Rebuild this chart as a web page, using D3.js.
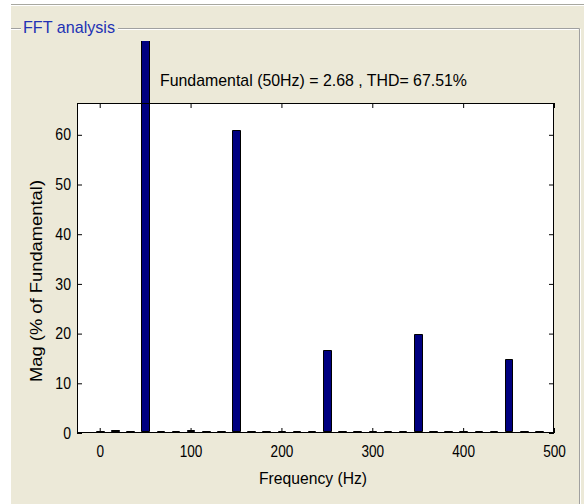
<!DOCTYPE html>
<html>
<head>
<meta charset="utf-8">
<script src="https://cdn.jsdelivr.net/npm/d3@7"></script>
<style>
  html, body { margin: 0; padding: 0; background: #fff; }
  svg { display: block; }
</style>
</head>
<body>
<div id="chart"></div>
<script>
// harmonic frequencies (Hz) and magnitudes (% of fundamental)
const freqs = [0, 16.67, 33.33, 50, 66.67, 83.33, 100, 116.67, 133.33, 150,
  166.67, 183.33, 200, 216.67, 233.33, 250, 266.67, 283.33, 300, 316.67,
  333.33, 350, 366.67, 383.33, 400, 416.67, 433.33, 450, 466.67, 483.33];
const mags = [0, 0.4, 0, 100, 0, 0, 0.4, 0, 0, 60.7,
  0, 0, 0, 0, 0, 16.5, 0, 0, 0, 0,
  0, 19.7, 0, 0, 0, 0, 0, 14.6, 0, 0];
const xTicks = [0, 100, 200, 300, 400, 500];
const yTicks = [0, 10, 20, 30, 40, 50, 60];
const panelTitle = "FFT analysis";
const plotTitle = "Fundamental (50Hz) = 2.68 , THD= 67.51%";
const xLabel = "Frequency (Hz)";
const yLabel = "Mag (% of Fundamental)";

const width = 584, height = 504;
const plot = { left: 77, right: 554, top: 103, bottom: 433 };
const font = "'Liberation Sans', Arial, sans-serif";

const svg = d3.select("#chart").append("svg")
  .attr("width", width)
  .attr("height", height);

// panel background (Windows XP style group box)
svg.append("rect").attr("x", 11).attr("y", 5).attr("width", width - 11).attr("height", height - 5)
  .attr("fill", "#ece9d8");
svg.append("line").attr("x1", 11).attr("x2", width).attr("y1", 4.5).attr("y2", 4.5)
  .attr("stroke", "#a8a8a0");
svg.append("line").attr("x1", 11).attr("x2", width).attr("y1", 5.5).attr("y2", 5.5)
  .attr("stroke", "#fff");

// etched frame lines
const frame = svg.append("g").attr("fill", "none");
frame.append("path").attr("d", "M11,28.5H21 M118,28.5H579.5V504").attr("stroke", "#a0a0a0");
frame.append("path").attr("d", "M11,29.5H21 M118,29.5H578.5 M580.5,29V504").attr("stroke", "#ffffff");

svg.append("text")
  .attr("x", 23).attr("y", 33)
  .attr("font-family", font).attr("font-size", 17)
  .attr("fill", "#2232b4")
  .attr("textLength", 92).attr("lengthAdjust", "spacingAndGlyphs")
  .text(panelTitle);

// scales
const x = d3.scaleLinear().domain([-25, 500]).range([plot.left, plot.right]);
const y = d3.scaleLinear().domain([0, 66.4]).range([plot.bottom, plot.top]);

// plot background
svg.append("rect")
  .attr("x", plot.left).attr("y", plot.top)
  .attr("width", plot.right - plot.left).attr("height", plot.bottom - plot.top)
  .attr("fill", "#fff");

// bars clipped to the panel area
svg.append("clipPath").attr("id", "bar-clip")
  .append("rect").attr("x", plot.left).attr("y", 41)
  .attr("width", plot.right - plot.left).attr("height", plot.bottom - 41);

const barW = 50 / 6; // bar width in Hz
svg.append("g").attr("clip-path", "url(#bar-clip)")
  .selectAll("path")
  .data(freqs.map((f, i) => ({ f, m: mags[i] })))
  .enter()
  .append("path")
  .attr("d", d => {
    const x0 = Math.round(x(d.f - barW / 2)) + 0.5;
    const x1 = Math.round(x(d.f + barW / 2)) + 0.5;
    const y0 = plot.bottom - 1.5;
    const y1 = Math.min(y0, Math.round(y(d.m)) - 0.5);
    return `M${x0},${y0}V${y1}H${x1}V${y0}Z`;
  })
  .attr("fill", "#000080")
  .attr("stroke", "#000")
  .attr("stroke-width", 1);

// axes with inward ticks on all four sides
const tickFont = g => g.selectAll("text")
  .attr("font-family", font).attr("font-size", 16).attr("fill", "#000");

svg.append("g")
  .attr("transform", `translate(0,${plot.bottom})`)
  .call(d3.axisBottom(x).tickValues(xTicks).tickSizeInner(-5).tickSizeOuter(0).tickPadding(13))
  .call(g => g.select(".domain").remove())
  .call(tickFont)
  .call(g => g.selectAll("text").attr("transform", "scale(0.85,1)"));

svg.append("g")
  .attr("transform", `translate(0,${plot.top})`)
  .call(d3.axisTop(x).tickValues(xTicks).tickSizeInner(-5).tickSizeOuter(0).tickFormat(""))
  .call(g => g.select(".domain").remove());

svg.append("g")
  .attr("transform", `translate(${plot.left},0)`)
  .call(d3.axisLeft(y).tickValues(yTicks).tickSizeInner(-5).tickSizeOuter(0))
  .call(g => g.select(".domain").remove())
  .call(tickFont)
  .call(g => g.selectAll("text").attr("x", -6 / 0.88).attr("transform", "scale(0.88,1)"));

svg.append("g")
  .attr("transform", `translate(${plot.right},0)`)
  .call(d3.axisRight(y).tickValues(yTicks).tickSizeInner(-5).tickSizeOuter(0).tickFormat(""))
  .call(g => g.select(".domain").remove());

svg.selectAll(".tick line").attr("stroke", "#000");

// axes box
svg.append("rect")
  .attr("x", plot.left + 0.5).attr("y", plot.top + 0.5)
  .attr("width", plot.right - plot.left - 1).attr("height", plot.bottom - plot.top - 1)
  .attr("fill", "none").attr("stroke", "#000");

// title and labels
svg.append("text")
  .attr("x", 160).attr("y", 86)
  .attr("font-family", font).attr("font-size", 17)
  .attr("textLength", 307).attr("lengthAdjust", "spacingAndGlyphs")
  .text(plotTitle);

svg.append("text")
  .attr("x", 259).attr("y", 484)
  .attr("font-family", font).attr("font-size", 17)
  .attr("textLength", 108).attr("lengthAdjust", "spacingAndGlyphs")
  .text(xLabel);

svg.append("text")
  .attr("transform", "translate(42,382) rotate(-90)")
  .attr("font-family", font).attr("font-size", 16)
  .attr("textLength", 202).attr("lengthAdjust", "spacingAndGlyphs")
  .text(yLabel);
</script>
</body>
</html>
